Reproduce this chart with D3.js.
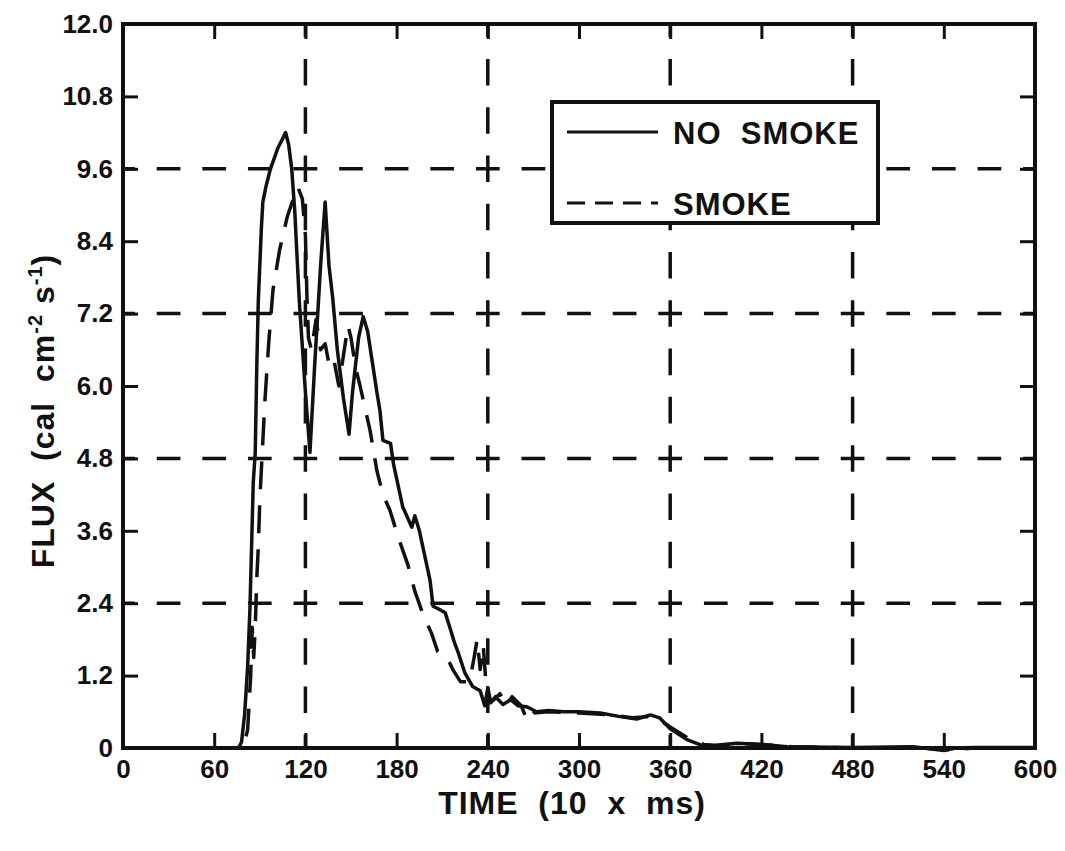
<!DOCTYPE html>
<html>
<head>
<meta charset="utf-8">
<script src="https://cdn.jsdelivr.net/npm/d3@7"></script>
<style>
  body { margin: 0; background: #fff; }
  svg text { font-family: "Liberation Sans", Arial, sans-serif; font-weight: bold; fill: #111; }
</style>
</head>
<body>
<div id="chart"></div>
<script>
// Data (time in 10 x ms, flux in cal cm-2 s-1)
var noSmokeTime = [0, 60, 76, 78, 80, 82, 83.5, 85.7, 87, 88, 89, 91, 92, 94, 97, 102, 107, 109, 111, 113, 116, 120, 123, 126, 130, 133, 135.5, 138, 141, 145, 148.7, 151, 155, 158, 161, 164, 167, 169, 171, 176, 178, 184, 190, 192, 195, 202, 204, 208, 212, 215, 218, 220, 225, 230, 235, 238, 240, 242, 245, 250, 255, 260, 266, 272, 280, 290, 300, 314, 327, 338, 347, 353, 360, 371, 380, 388, 404, 420, 437, 480, 520, 540, 548, 560, 600];
var noSmokeFlux = [0, 0, 0, 0.1, 0.55, 1.35, 2.3, 4.4, 4.9, 6.3, 7.4, 8.6, 9.05, 9.3, 9.6, 9.95, 10.2, 10.0, 9.6, 8.9, 7.4, 5.9, 4.9, 6.3, 8.0, 9.05, 8.0, 7.45, 6.6, 5.8, 5.2, 5.9, 6.8, 7.15, 6.9, 6.4, 5.9, 5.6, 5.1, 5.05, 4.7, 4.0, 3.66, 3.85, 3.6, 2.78, 2.35, 2.3, 2.24, 2.0, 1.75, 1.62, 1.24, 1.02, 0.95, 0.7, 1.0, 0.75, 0.85, 0.72, 0.8, 0.7, 0.68, 0.6, 0.62, 0.6, 0.6, 0.58, 0.52, 0.48, 0.55, 0.5, 0.32, 0.14, 0.05, 0.04, 0.08, 0.06, 0.02, 0.01, 0.02, -0.04, 0, 0.01, 0.01];

var smokeTime = [0, 60, 79, 82, 84, 85, 86, 87, 88, 89, 90, 91.4, 93.4, 96, 98.7, 103, 108, 112, 115, 118, 120, 121, 122, 124, 127, 130, 133, 136, 139, 142, 145, 148, 150, 153, 156, 158, 162.5, 167, 171, 175.6, 181, 187.5, 192, 197, 203, 207, 213, 217, 222, 228, 231, 233, 235, 237, 239, 241, 244, 248, 252, 256, 262, 266, 270, 280, 300, 320, 335, 345, 352, 360, 372, 382, 395, 410, 425, 440, 480, 520, 545, 560, 600];
var smokeFlux = [0, 0, 0, 0.3, 1.2, 2.0, 1.5, 2.0, 2.8, 3.33, 4.1, 4.8, 5.77, 6.76, 7.6, 8.25, 8.8, 9.1, 9.3, 9.1, 8.5, 7.5, 6.8, 6.6, 7.1, 6.6, 6.7, 6.3, 6.4, 6.0, 6.5, 7.0, 6.8, 6.3, 6.0, 5.77, 5.27, 4.6, 4.2, 3.94, 3.5, 3.03, 2.6, 2.24, 1.9, 1.6, 1.51, 1.3, 1.1, 1.1, 1.5, 1.8, 1.3, 1.7, 1.0, 0.75, 0.8, 0.9, 0.7, 0.85, 0.7, 0.45, 0.58, 0.6, 0.58, 0.55, 0.5, 0.52, 0.48, 0.35, 0.16, 0.06, 0.03, 0.07, 0.05, 0.02, 0.0, 0.01, -0.03, 0.0, 0.0];

var xTicks = d3.range(0, 601, 60);
var yTicks = [0, 1.2, 2.4, 3.6, 4.8, 6.0, 7.2, 8.4, 9.6, 10.8, 12.0];
var xGrid = [120, 240, 360, 480];
var yGrid = [2.4, 4.8, 7.2, 9.6];
var seriesNames = ["NO  SMOKE", "SMOKE"];

// Margins / plot area
var margin = { top: 24, right: 30, bottom: 103, left: 123 },
    width = 1065 - margin.left - margin.right,
    height = 851 - margin.top - margin.bottom;

var svg = d3.select('#chart').append('svg')
    .attr('width', width + margin.left + margin.right)
    .attr('height', height + margin.top + margin.bottom)
    .append('g')
    .attr('transform', 'translate(' + margin.left + ',' + margin.top + ')');

var x = d3.scaleLinear().domain([0, 600]).range([0, width]);
var y = d3.scaleLinear().domain([0, 12]).range([height, 0]);

// Dashed grid, dashes centred on the crossings
var hPeriod = (x(120) - x(0)) / 4;
var vPeriod = (y(0) - y(2.4)) / 3;

svg.selectAll('.hgrid')
    .data(yGrid)
    .enter().append('line')
    .attr('x1', 0).attr('x2', width)
    .attr('y1', function (d) { return y(d); })
    .attr('y2', function (d) { return y(d); })
    .attr('stroke', '#111')
    .attr('stroke-width', 3.5)
    .attr('stroke-dasharray', (hPeriod * 0.52) + ' ' + (hPeriod * 0.48))
    .attr('stroke-dashoffset', hPeriod * 0.26);

svg.selectAll('.vgrid')
    .data(xGrid)
    .enter().append('line')
    .attr('y1', height).attr('y2', 0)
    .attr('x1', function (d) { return x(d); })
    .attr('x2', function (d) { return x(d); })
    .attr('stroke', '#111')
    .attr('stroke-width', 3.5)
    .attr('stroke-dasharray', (vPeriod * 0.55) + ' ' + (vPeriod * 0.45))
    .attr('stroke-dashoffset', vPeriod * 0.275);

// Axes with inward ticks on all four sides
var tickLen = 15;
var fmtY = function (d) { return d === 0 ? '0' : d.toFixed(1); };

var gx = svg.append('g')
    .attr('transform', 'translate(0,' + height + ')')
    .call(d3.axisBottom(x).tickValues(xTicks).tickSize(-tickLen).tickPadding(12).tickFormat(d3.format('d')));
var gy = svg.append('g')
    .call(d3.axisLeft(y).tickValues(yTicks).tickSize(-tickLen).tickPadding(10).tickFormat(fmtY));
var gt = svg.append('g')
    .call(d3.axisTop(x).tickValues(xTicks).tickSize(-tickLen).tickFormat(''));
var gr = svg.append('g')
    .attr('transform', 'translate(' + width + ',0)')
    .call(d3.axisRight(y).tickValues(yTicks).tickSize(-tickLen).tickFormat(''));

[gx, gy, gt, gr].forEach(function (g) {
    g.select('.domain').remove();
    g.selectAll('.tick line').attr('stroke', '#111').attr('stroke-width', 3);
    g.selectAll('.tick text').style('font-size', '26px').attr('fill', '#111');
});

// Curves
var line = d3.line()
    .x(function (d) { return x(d[0]); })
    .y(function (d) { return y(d[1]); })
    .curve(d3.curveLinear);

var noSmoke = noSmokeTime.map(function (t, i) { return [t, noSmokeFlux[i]]; });
var smoke = smokeTime.map(function (t, i) { return [t, smokeFlux[i]]; });

svg.append('path')
    .datum(smoke)
    .attr('d', line)
    .attr('fill', 'none')
    .attr('stroke', '#111')
    .attr('stroke-width', 3.5)
    .attr('stroke-linejoin', 'round')
    .attr('stroke-dasharray', '28 16');

svg.append('path')
    .datum(noSmoke)
    .attr('d', line)
    .attr('fill', 'none')
    .attr('stroke', '#111')
    .attr('stroke-width', 3.5)
    .attr('stroke-linejoin', 'round');

// Frame
svg.append('rect')
    .attr('width', width)
    .attr('height', height)
    .attr('fill', 'none')
    .attr('stroke', '#111')
    .attr('stroke-width', 4);

// Legend
var legend = svg.append('g')
    .attr('transform', 'translate(' + (552 - margin.left) + ',' + (102 - margin.top) + ')');
legend.append('rect')
    .attr('width', 326).attr('height', 121)
    .attr('fill', '#fff')
    .attr('stroke', '#111').attr('stroke-width', 4);
legend.selectAll('.legline')
    .data(seriesNames)
    .enter().append('line')
    .attr('x1', 15).attr('x2', 106)
    .attr('y1', function (d, i) { return 30 + i * 71; })
    .attr('y2', function (d, i) { return 30 + i * 71; })
    .attr('stroke', '#111').attr('stroke-width', 3)
    .attr('stroke-dasharray', function (d, i) { return i === 1 ? '18 10' : null; });
legend.selectAll('.legtext')
    .data(seriesNames)
    .enter().append('text')
    .attr('x', 121)
    .attr('y', function (d, i) { return 42 + i * 71; })
    .style('font-size', '31px')
    .style('letter-spacing', '1px')
    .style('white-space', 'pre')
    .text(function (d) { return d; });

// Axis titles
svg.append('text')
    .attr('x', width / 2 - 7)
    .attr('y', height + 66)
    .attr('text-anchor', 'middle')
    .style('font-size', '32px')
    .style('letter-spacing', '1px')
    .style('white-space', 'pre')
    .text('TIME  (10  x  ms)');

var yTitle = svg.append('text')
    .attr('transform', 'translate(' + (54 - margin.left) + ',' + (height / 2 + 25) + ') rotate(-90)')
    .attr('text-anchor', 'middle')
    .style('font-size', '32px')
    .style('letter-spacing', '1px')
    .style('white-space', 'pre');
yTitle.append('tspan').text('FLUX  (cal  cm');
yTitle.append('tspan').attr('dy', -12).style('font-size', '20px').text('-2');
yTitle.append('tspan').attr('dy', 12).text(' s');
yTitle.append('tspan').attr('dy', -12).style('font-size', '20px').text('-1');
yTitle.append('tspan').attr('dy', 12).text(')');
</script>
</body>
</html>
